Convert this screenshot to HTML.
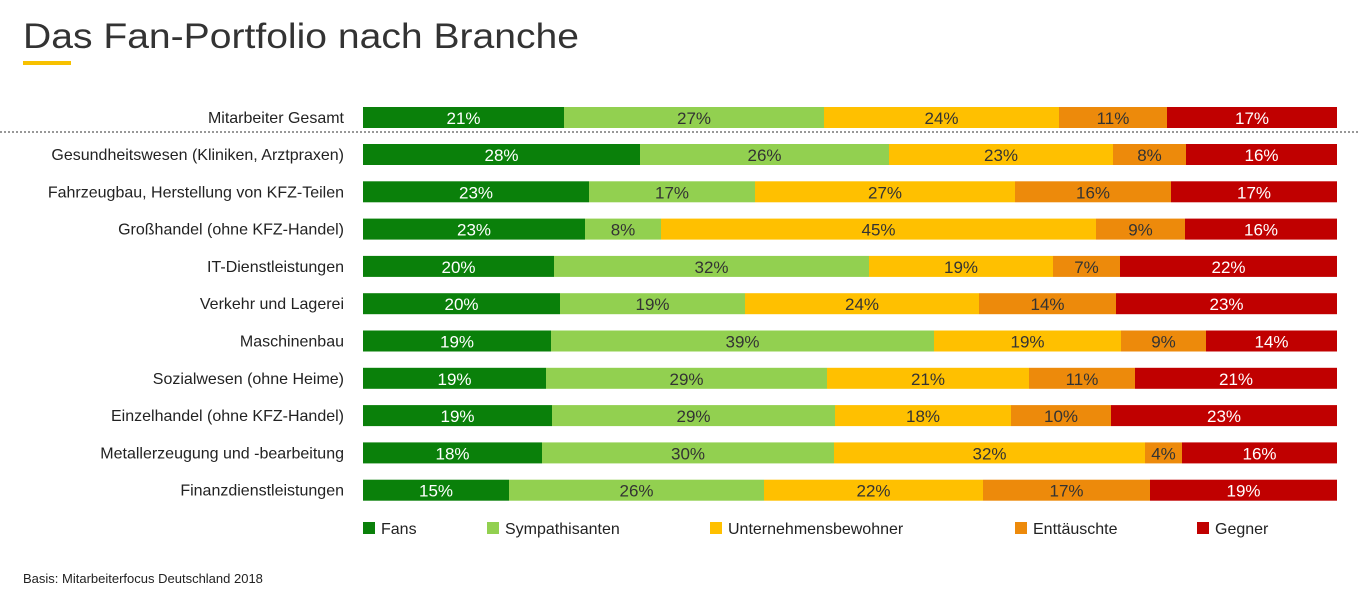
<!DOCTYPE html>
<html><head><meta charset="utf-8"><style>
html,body{margin:0;padding:0;background:#fff;}
svg{display:block;font-family:"Liberation Sans",sans-serif;}
</style></head><body>
<svg width="1358" height="609" viewBox="0 0 1358 609" xmlns="http://www.w3.org/2000/svg">
<text x="23" y="48" font-size="35" fill="#333" textLength="556" lengthAdjust="spacingAndGlyphs">Das Fan-Portfolio nach Branche</text>
<rect x="23" y="61" width="48" height="4" fill="#f7c100"/>
<line x1="0" y1="132" x2="1358" y2="132" stroke="#777" stroke-width="1.5" stroke-dasharray="2,2"/>
<g id="bars"></g>
<g font-size="16" fill="#222">
<rect x="363" y="522" width="12" height="12" fill="#0a800a"/><text x="381" y="534">Fans</text>
<rect x="487" y="522" width="12" height="12" fill="#92d050"/><text x="505" y="534">Sympathisanten</text>
<rect x="710" y="522" width="12" height="12" fill="#ffc000"/><text x="728" y="534">Unternehmensbewohner</text>
<rect x="1015" y="522" width="12" height="12" fill="#ed8a0b"/><text x="1033" y="534">Enttäuschte</text>
<rect x="1197" y="522" width="12" height="12" fill="#c00000"/><text x="1215" y="534">Gegner</text>
</g>
<text x="23" y="583" font-size="13" fill="#222">Basis: Mitarbeiterfocus Deutschland 2018</text>
</svg>
<script>
var rows=[
["Mitarbeiter Gesamt",[363,564,824,1059,1167,1337],[21,27,24,11,17]],
["Gesundheitswesen (Kliniken, Arztpraxen)",[363,640,889,1113,1186,1337],[28,26,23,8,16]],
["Fahrzeugbau, Herstellung von KFZ-Teilen",[363,589,755,1015,1171,1337],[23,17,27,16,17]],
["Großhandel (ohne KFZ-Handel)",[363,585,661,1096,1185,1337],[23,8,45,9,16]],
["IT-Dienstleistungen",[363,554,869,1053,1120,1337],[20,32,19,7,22]],
["Verkehr und Lagerei",[363,560,745,979,1116,1337],[20,19,24,14,23]],
["Maschinenbau",[363,551,934,1121,1206,1337],[19,39,19,9,14]],
["Sozialwesen (ohne Heime)",[363,546,827,1029,1135,1337],[19,29,21,11,21]],
["Einzelhandel (ohne KFZ-Handel)",[363,552,835,1011,1111,1337],[19,29,18,10,23]],
["Metallerzeugung und -bearbeitung",[363,542,834,1145,1182,1337],[18,30,32,4,16]],
["Finanzdienstleistungen",[363,509,764,983,1150,1337],[15,26,22,17,19]]];
var cols=["#0a800a","#92d050","#ffc000","#ed8a0b","#c00000"];
var tc=["#fff","#333","#333","#333","#fff"];
var s="";
rows.forEach(function(r,i){
 var y=i==0?107:144+(i-1)*37.3;
 s+='<text x="344" y="'+(y+16)+'" font-size="16" fill="#222" text-anchor="end">'+r[0]+'</text>';
 for(var k=0;k<5;k++){
  var x0=r[1][k],x1=r[1][k+1];
  s+='<rect x="'+x0+'" y="'+y+'" width="'+(x1-x0)+'" height="21" fill="'+cols[k]+'"/>';
  s+='<text x="'+((x0+x1)/2)+'" y="'+(y+17)+'" font-size="17" fill="'+tc[k]+'" text-anchor="middle">'+r[2][k]+'%</text>';
 }
});
document.getElementById("bars").innerHTML=s;
</script>
</body></html>
